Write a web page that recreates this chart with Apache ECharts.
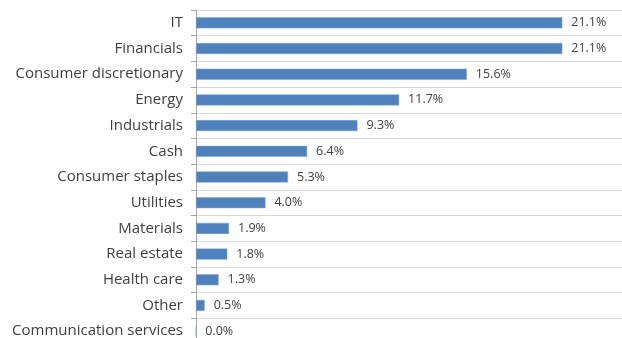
<!DOCTYPE html>
<html>
<head>
<meta charset="utf-8">
<script src="https://cdn.jsdelivr.net/npm/echarts@6/dist/echarts.min.js"></script>
<style>html,body{margin:0;padding:0;background:#fff}#c{width:622px;height:338px}</style>
</head>
<body>
<div id="c"></div>
<script>
var categories = ["IT","Financials","Consumer discretionary","Energy","Industrials","Cash","Consumer staples","Utilities","Materials","Real estate","Health care","Other","Communication services"];
var values = [21.1,21.1,15.6,11.7,9.3,6.4,5.3,4.0,1.9,1.8,1.3,0.5,0.0];

var chart = echarts.init(document.getElementById('c'), null, {renderer:'canvas'});
chart.setOption({
  animation:false,
  grid:{left:196, width:434, top:10, height:334, containLabel:false, outerBoundsMode:'none'},
  xAxis:{type:'value', min:0, max:25, show:false},
  yAxis:{
    type:'category', data:categories, inverse:true,
    axisLine:{show:true, lineStyle:{color:'#a6a6a6', width:1}},
    axisTick:{show:true, length:5, lineStyle:{color:'#a6a6a6'}},
    axisLabel:{color:'#404040', fontFamily:'Open Sans', fontSize:15, margin:13},
    splitLine:{show:true, lineStyle:{color:'#d9d9d9', width:1}}
  },
  series:[{
    type:'bar', data:values, barWidth:11,
    itemStyle:{color:'#4f81bd', borderColor:'#7fa3d0', borderWidth:0.5},
    label:{show:true, position:'right', distance:9, color:'#404040', fontFamily:'Open Sans', fontSize:12.5,
      formatter:function(p){return p.value.toFixed(1)+'%';}}
  }]
});
</script>
</body>
</html>
